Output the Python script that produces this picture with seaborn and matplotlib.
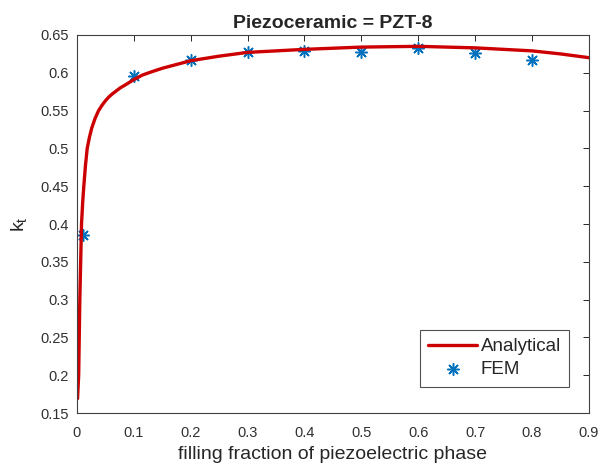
import matplotlib
matplotlib.use("Agg")
import matplotlib.pyplot as plt
import seaborn as sns

# Analytical curve
ana_x = [0.001, 0.002, 0.003, 0.004, 0.005, 0.0065, 0.008, 0.010, 0.012, 0.015,
         0.018, 0.022, 0.026, 0.032, 0.038, 0.044, 0.05, 0.056, 0.062, 0.069,
         0.076, 0.085, 0.1, 0.115, 0.13, 0.15, 0.175, 0.2, 0.25, 0.3, 0.35,
         0.4, 0.5, 0.6, 0.7, 0.75, 0.8, 0.85, 0.9]
ana_y = [0.169, 0.185, 0.20, 0.25, 0.30, 0.35, 0.40, 0.428, 0.45, 0.478,
         0.50, 0.515, 0.527, 0.540, 0.550, 0.557, 0.563, 0.568, 0.572, 0.576,
         0.580, 0.584, 0.591, 0.597, 0.601, 0.606, 0.611, 0.616, 0.622, 0.627, 0.629,
         0.631, 0.634, 0.635, 0.633, 0.631, 0.629, 0.625, 0.620]

# FEM points
fem_x = [0.01, 0.1, 0.2, 0.3, 0.4, 0.5, 0.6, 0.7, 0.8]
fem_y = [0.386, 0.596, 0.617, 0.627, 0.629, 0.627, 0.633, 0.626, 0.617]

x_ticks = [0, 0.1, 0.2, 0.3, 0.4, 0.5, 0.6, 0.7, 0.8, 0.9]
y_ticks = [0.15, 0.2, 0.25, 0.3, 0.35, 0.4, 0.45, 0.5, 0.55, 0.6, 0.65]

sns.set_style("white")
plt.rcParams["font.family"] = ["Liberation Sans", "DejaVu Sans"]

fig = plt.figure(figsize=(5.99, 4.66), dpi=100)
ax = fig.add_axes([0.1285, 0.1137, 0.8545, 0.8112])

sns.lineplot(x=ana_x, y=ana_y, ax=ax, color="#CC0000", linewidth=2.4,
             label="Analytical", sort=False)
sns.scatterplot(x=fem_x, y=fem_y, ax=ax, marker=(8, 2, 0), color="#0072BD",
                edgecolor="#0072BD", s=70, linewidth=1.1, label="FEM")

ax.set_xlim(0, 0.9)
ax.set_ylim(0.15, 0.65)
ax.set_xticks(x_ticks)
ax.set_xticklabels([f"{t:g}" for t in x_ticks])
ax.set_yticks(y_ticks)
ax.set_yticklabels([f"{t:g}" for t in y_ticks])
ax.tick_params(direction="in", length=4, width=0.7, color="#262626",
               labelcolor="#303030", labelsize=10.5, top=True, right=True,
               labeltop=False, labelright=False)
ax.tick_params(axis="x", pad=9)
ax.tick_params(axis="y", pad=6)
for sp in ax.spines.values():
    sp.set_color("#404040")
    sp.set_linewidth(0.8)

ax.set_title("Piezoceramic = PZT-8", fontsize=14, fontweight="bold", pad=5)
ax.set_xlabel("filling fraction of piezoelectric phase", fontsize=14,
              color="#262626", labelpad=5)
ax.set_ylabel("$\\mathregular{k_t}$", fontsize=14, color="#262626", labelpad=8)

leg = ax.legend(loc="lower right", fontsize=13.5, frameon=True, fancybox=False,
                bbox_to_anchor=(0.962, 0.07), borderaxespad=0,
                handlelength=2.6, handletextpad=0.2,
                borderpad=0.45, labelspacing=0.3)
leg.get_frame().set_edgecolor("#262626")
leg.get_frame().set_linewidth(0.8)

fig.savefig("out.png", dpi=100)
